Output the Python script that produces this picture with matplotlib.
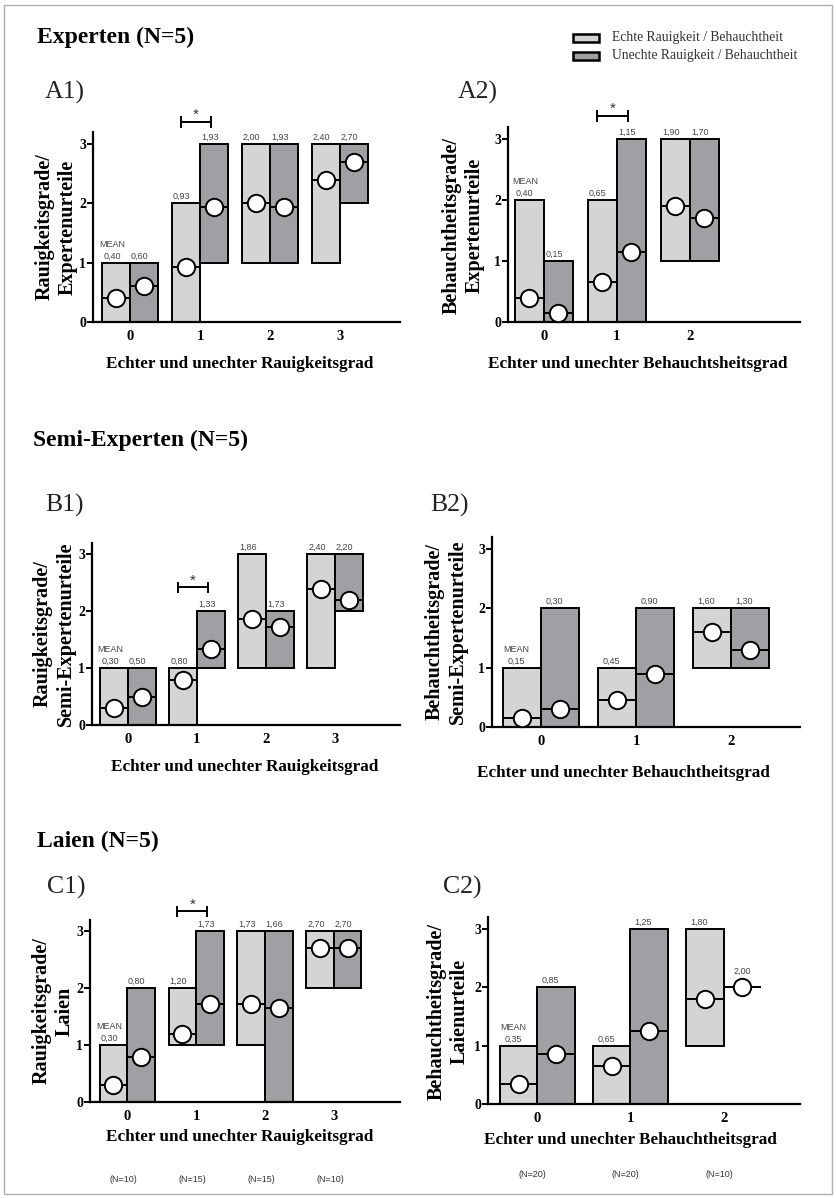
import numpy as np
import matplotlib
matplotlib.use('Agg')
import matplotlib.pyplot as plt
from matplotlib.patches import Rectangle

W, H = 836, 1198
SERIF = ['Liberation Serif', 'DejaVu Serif']
SANS = ['Liberation Sans', 'DejaVu Sans']
LIGHT = '#d4d4d4'
DARK = '#a0a0a4'

# --- data: (min, max, mean) per category, echte vs. unechte ---
a1_cats = [0, 1, 2, 3]
a1_echt_lo = [0, 0, 1, 1]
a1_echt_hi = [1, 2, 3, 3]
a1_echt_mean = [0.40, 0.93, 2.00, 2.40]
a1_unecht_lo = [0, 1, 1, 2]
a1_unecht_hi = [1, 3, 3, 3]
a1_unecht_mean = [0.60, 1.93, 1.93, 2.70]

a2_cats = [0, 1, 2]
a2_echt_lo = [0, 0, 1]
a2_echt_hi = [2, 2, 3]
a2_echt_mean = [0.40, 0.65, 1.90]
a2_unecht_lo = [0, 0, 1]
a2_unecht_hi = [1, 3, 3]
a2_unecht_mean = [0.15, 1.15, 1.70]

b1_cats = [0, 1, 2, 3]
b1_echt_lo = [0, 0, 1, 1]
b1_echt_hi = [1, 1, 3, 3]
b1_echt_mean = [0.30, 0.80, 1.86, 2.40]
b1_unecht_lo = [0, 1, 1, 2]
b1_unecht_hi = [1, 2, 2, 3]
b1_unecht_mean = [0.50, 1.33, 1.73, 2.20]

b2_cats = [0, 1, 2]
b2_echt_lo = [0, 0, 1]
b2_echt_hi = [1, 1, 2]
b2_echt_mean = [0.15, 0.45, 1.60]
b2_unecht_lo = [0, 0, 1]
b2_unecht_hi = [2, 2, 2]
b2_unecht_mean = [0.30, 0.90, 1.30]

c1_cats = [0, 1, 2, 3]
c1_echt_lo = [0, 1, 1, 2]
c1_echt_hi = [1, 2, 3, 3]
c1_echt_mean = [0.30, 1.20, 1.73, 2.70]
c1_unecht_lo = [0, 1, 0, 2]
c1_unecht_hi = [2, 3, 3, 3]
c1_unecht_mean = [0.80, 1.73, 1.66, 2.70]
c1_n = ['(N=10)', '(N=15)', '(N=15)', '(N=10)']

c2_cats = [0, 1, 2]
c2_echt_lo = [0, 0, 1]
c2_echt_hi = [1, 1, 3]
c2_echt_mean = [0.35, 0.65, 1.80]
c2_unecht_lo = [0, 0, 2]
c2_unecht_hi = [2, 3, 2]
c2_unecht_mean = [0.85, 1.25, 2.00]
c2_n = ['(N=20)', '(N=20)', '(N=10)']


def fx(px):
    return px / W


def fy(py):
    return 1 - py / H


def make_axes(fig, left, top, right, bottom, xlim):
    ax = fig.add_axes([fx(left), fy(bottom), (right - left) / W, (bottom - top) / H])
    ax.set_xlim(*xlim)
    ax.set_ylim(0, 3.2)
    for s in ['top', 'right']:
        ax.spines[s].set_visible(False)
    for s in ['left', 'bottom']:
        ax.spines[s].set_linewidth(1.6)
    ax.set_yticks([0, 1, 2, 3])
    ax.tick_params(axis='y', length=4, width=1.4, pad=1)
    ax.tick_params(axis='x', length=0, pad=6)
    ax.patch.set_alpha(0)
    return ax


def fmt(v):
    return f'{v:.2f}'.replace('.', ',')


def draw_panel(ax, cats, e_lo, e_hi, e_mean, u_lo, u_hi, u_mean):
    w = 0.4
    cats = np.array(cats)
    groups = [(cats - w / 2, e_lo, e_hi, e_mean, LIGHT),
              (cats + w / 2, u_lo, u_hi, u_mean, DARK)]
    for xs, lo, hi, mean, col in groups:
        ax.bar(xs, np.subtract(hi, lo), bottom=lo, width=w, color=col,
               edgecolor='black', linewidth=1.4, zorder=2)
        ax.hlines(mean, xs - w / 2, xs + w / 2, color='black', linewidth=1.4, zorder=3)
        ax.plot(xs, mean, 'o', ms=12.5, mfc='white', mec='black', mew=1.4,
                zorder=4, clip_on=False)
        for x, top, bot, m in zip(xs, hi, lo, mean):
            # a bar without height is covered by its marker: lift the label
            if top > bot:
                dx, dy = -0.06, 1.5
            else:
                dx, dy = 0.0, 8
            ax.annotate(fmt(m), (x + dx, top), xytext=(0, dy), textcoords='offset points',
                        ha='center', va='bottom', fontsize=6.5, color='#444444',
                        family=SANS, annotation_clip=False)
    ax.annotate('MEAN', (cats[0] - w / 2 - 0.06, e_hi[0]), xytext=(0, 10),
                textcoords='offset points', ha='center', va='bottom', fontsize=6.5,
                color='#444444', family=SANS, annotation_clip=False)
    ax.set_xticks(cats)
    ax.set_xticklabels([str(c) for c in cats], family=SERIF, fontweight='bold', fontsize=10.5)
    ax.set_yticklabels(['0', '1', '2', '3'], family=SERIF, fontweight='bold', fontsize=10)


def star(ax, cat, y):
    x0, x1 = cat - 0.27, cat + 0.16
    kw = dict(color='black', linewidth=1.4, clip_on=False)
    ax.plot([x0, x1], [y, y], **kw)
    ax.plot([x0, x0], [y - 0.08, y + 0.08], **kw)
    ax.plot([x1, x1], [y - 0.08, y + 0.08], **kw)
    ax.annotate('*', ((x0 + x1) / 2, y), xytext=(0, 0), textcoords='offset points',
                ha='center', va='bottom', fontsize=11, color='#333333', family=SANS,
                annotation_clip=False)


def ylabel(fig, x, y, txt):
    fig.text(fx(x), fy(y), txt, rotation=90, ha='center', va='center',
             family=SERIF, fontweight='bold', fontsize=14.5, multialignment='center')


def xlabel(fig, x, y, txt):
    fig.text(fx(x), fy(y), txt, ha='center', va='center',
             family=SERIF, fontweight='bold', fontsize=12.3)


fig = plt.figure(figsize=(W / 100, H / 100), dpi=100)
fig.patch.set_facecolor('white')
fig.add_artist(Rectangle((fx(4), fy(1194)), 828 / W, 1189 / H, transform=fig.transFigure,
                         fill=False, edgecolor='#b0b0b0', linewidth=1))

# headings
for txt, x, y in [('Experten (N=5)', 37, 37), ('Semi-Experten (N=5)', 33, 440),
                  ('Laien (N=5)', 37, 841)]:
    fig.text(fx(x), fy(y), txt, ha='left', va='center', family=SERIF,
             fontweight='bold', fontsize=17)
for txt, x, y in [('A1)', 45, 92), ('A2)', 458, 92), ('B1)', 45, 505),
                  ('B2)', 430, 505), ('C1)', 47, 887), ('C2)', 443, 887)]:
    fig.text(fx(x), fy(y), txt, ha='left', va='center', family=SERIF,
             fontsize=18.5, color='#222222')

# legend
for lab, col, y in [('Echte Rauigkeit / Behauchtheit', LIGHT, 38),
                    ('Unechte Rauigkeit / Behauchtheit', DARK, 56)]:
    fig.add_artist(Rectangle((fx(573), fy(y + 4)), 26 / W, 8 / H, transform=fig.transFigure,
                             facecolor=col, edgecolor='black', linewidth=1.8))
    fig.text(fx(612), fy(y), lab, ha='left', va='center', family=SERIF,
             fontsize=9.8, color='#333333')

# A1
ax = make_axes(fig, 93, 132, 400, 322, (-0.53, 3.86))
draw_panel(ax, a1_cats, a1_echt_lo, a1_echt_hi, a1_echt_mean,
           a1_unecht_lo, a1_unecht_hi, a1_unecht_mean)
star(ax, 1, 3.37)
ylabel(fig, 56, 227, 'Rauigkeitsgrade/\nExpertenurteile')
xlabel(fig, 240, 364, 'Echter und unechter Rauigkeitsgrad')

# A2
ax = make_axes(fig, 508, 127, 800, 322, (-0.49, 3.51))
draw_panel(ax, a2_cats, a2_echt_lo, a2_echt_hi, a2_echt_mean,
           a2_unecht_lo, a2_unecht_hi, a2_unecht_mean)
star(ax, 1, 3.38)
ylabel(fig, 463, 225, 'Behauchtheitsgrade/\nExpertenurteile')
xlabel(fig, 638, 364, 'Echter und unechter Behauchtsheitsgrad')

# B1
ax = make_axes(fig, 92, 543, 400, 725, (-0.52, 3.94))
draw_panel(ax, b1_cats, b1_echt_lo, b1_echt_hi, b1_echt_mean,
           b1_unecht_lo, b1_unecht_hi, b1_unecht_mean)
star(ax, 1, 2.42)
ylabel(fig, 54, 634, 'Rauigkeitsgrade/\nSemi-Expertenurteile')
xlabel(fig, 245, 767, 'Echter und unechter Rauigkeitsgrad')

# B2
ax = make_axes(fig, 492, 537, 800, 727, (-0.52, 2.73))
draw_panel(ax, b2_cats, b2_echt_lo, b2_echt_hi, b2_echt_mean,
           b2_unecht_lo, b2_unecht_hi, b2_unecht_mean)
ylabel(fig, 446, 632, 'Behauchtheitsgrade/\nSemi-Expertenurteile')
xlabel(fig, 623, 773, 'Echter und unechter Behauchtheitsgrad')

# C1
ax = make_axes(fig, 90, 920, 400, 1102, (-0.54, 3.96))
draw_panel(ax, c1_cats, c1_echt_lo, c1_echt_hi, c1_echt_mean,
           c1_unecht_lo, c1_unecht_hi, c1_unecht_mean)
star(ax, 1, 3.35)
ylabel(fig, 53, 1011, 'Rauigkeitsgrade/\nLaien')
xlabel(fig, 240, 1137, 'Echter und unechter Rauigkeitsgrad')
for c, n in zip(c1_cats, c1_n):
    ax.annotate(n, (c - 0.05, 0), xytext=(0, -56), textcoords='offset points',
                ha='center', va='center', fontsize=6.5, color='#333333',
                family=SANS, annotation_clip=False)

# C2
ax = make_axes(fig, 488, 917, 800, 1104, (-0.53, 2.82))
draw_panel(ax, c2_cats, c2_echt_lo, c2_echt_hi, c2_echt_mean,
           c2_unecht_lo, c2_unecht_hi, c2_unecht_mean)
ylabel(fig, 448, 1011, 'Behauchtheitsgrade/\nLaienurteile')
xlabel(fig, 630, 1140, 'Echter und unechter Behauchtheitsgrad')
for c, n in zip(c2_cats, c2_n):
    ax.annotate(n, (c - 0.05, 0), xytext=(0, -51), textcoords='offset points',
                ha='center', va='center', fontsize=6.5, color='#333333',
                family=SANS, annotation_clip=False)

fig.savefig('out.png', dpi=100)
